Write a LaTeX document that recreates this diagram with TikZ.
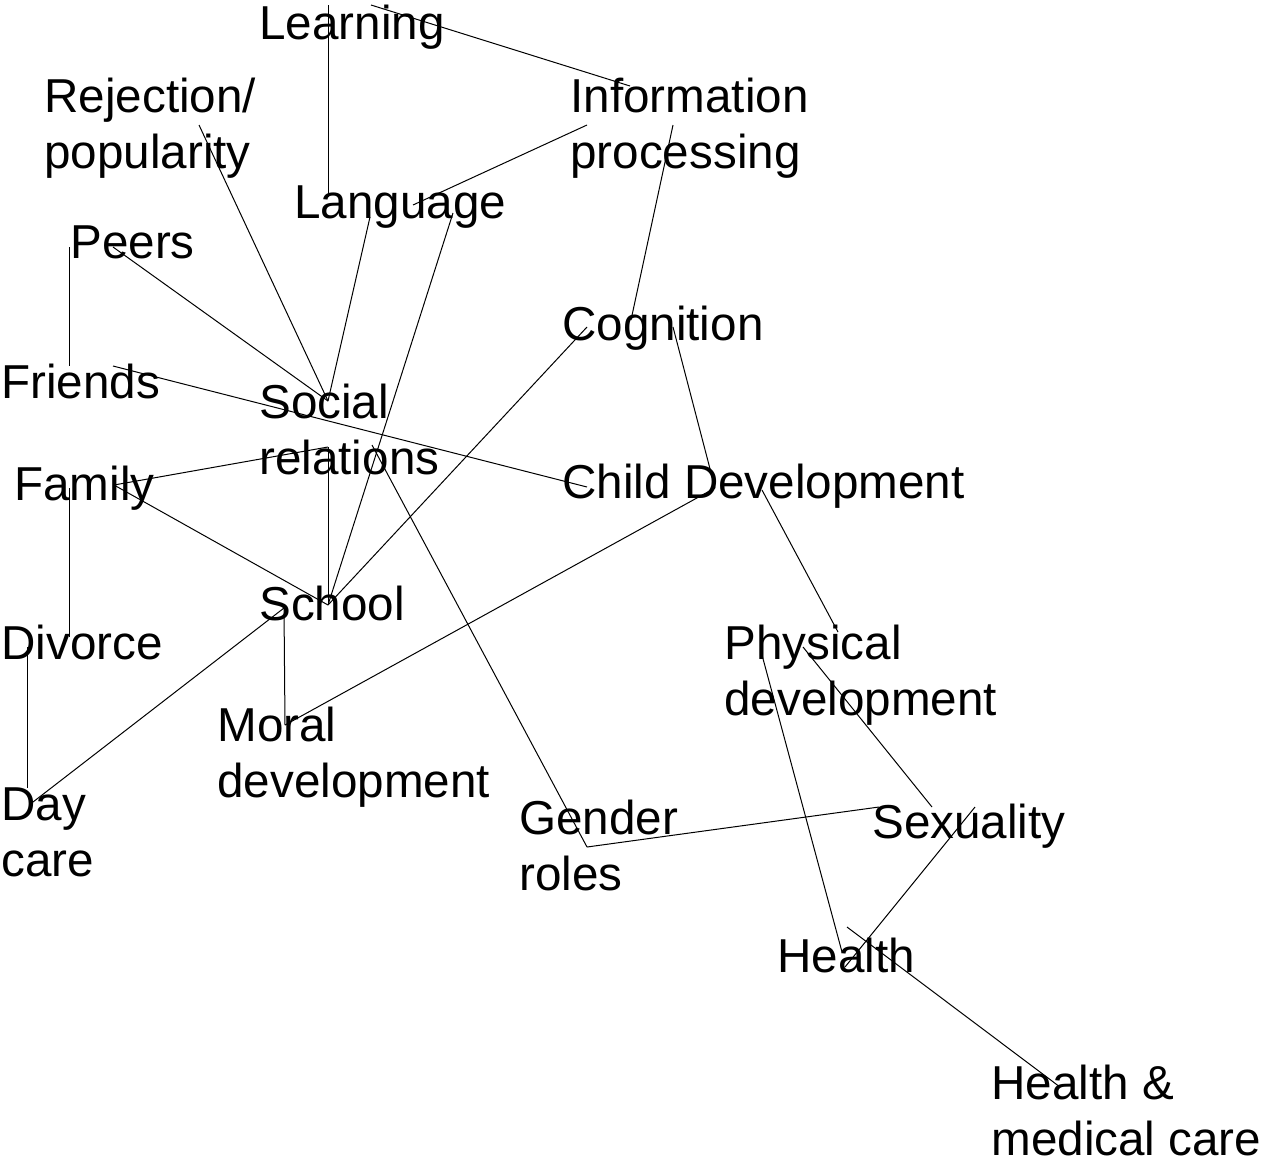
\documentclass[tikz,border=0pt]{standalone}
\usepackage{fontspec}
\setmainfont{Liberation Sans}
\usetikzlibrary{calc}

\begin{document}
\begin{tikzpicture}[x=0.5pt,y=-0.5pt,
  tema/.style={anchor=base west,inner sep=0pt,align=left,font=\fontsize{23.8}{28}\selectfont},
  enlace/.style={line width=0.5pt}
  ]
  \useasboundingbox (0,0) rectangle (1261,1162);

  % temas (base west = last line)
  \node[tema] (learn) at (259,39) {Learning};
  \node[tema] (rej) at (44,168) {Rejection/\\popularity};
  \node[tema] (info) at (570,168) {Information\\processing};
  \node[tema] (lang) at (294,218) {Language};
  \node[tema] (peers) at (70,258) {Peers};
  \node[tema] (cogn) at (562,340) {Cognition};
  \node[tema] (friends) at (1,398) {Friends};
  \node[tema] (social) at (259,474) {Social\\relations};
  \node[tema] (family) at (14,500) {Family};
  \node[tema] (child) at (562,498) {Child Development};
  \node[tema] (school) at (259,620) {School};
  \node[tema] (phys) at (724,715) {Physical\\development};
  \node[tema] (divorce) at (1,659) {Divorce};
  \node[tema] (moral) at (217,797) {Moral\\development};
  \node[tema] (daycare) at (1,876) {Day\\care};
  \node[tema] (gender) at (519,890) {Gender\\roles};
  \node[tema] (sex) at (872,838) {Sexuality};
  \node[tema] (health) at (777,972) {Health};
  \node[tema] (medical) at (991,1155) {Health \&\\medical care};

  % puntos de enlace
  \coordinate (learn-a) at (328,5);
  \coordinate (learn-b) at (371,5);
  \coordinate (info-a) at (630,86);
  \coordinate (info-b) at (587,125);
  \coordinate (info-c) at (673,125);
  \coordinate (rej-a) at (199,125);
  \coordinate (lang-a) at (328,197);
  \coordinate (lang-b) at (413,205);
  \coordinate (lang-c) at (370,217);
  \coordinate (lang-d) at (453,213);
  \coordinate (peers-a) at (113,247);
  \coordinate (peers-b) at (69,247);
  \coordinate (cogn-a) at (631,320);
  \coordinate (cogn-b) at (587,327);
  \coordinate (cogn-c) at (673,327);
  \coordinate (friends-a) at (113,366);
  \coordinate (friends-b) at (69,366);
  \coordinate (social-a) at (328,401);
  \coordinate (social-b) at (328,447);
  \coordinate (social-c) at (372,445);
  \coordinate (family-a) at (114,485);
  \coordinate (family-b) at (69,488);
  \coordinate (child-a) at (587,487);
  \coordinate (child-b) at (715,488);
  \coordinate (child-c) at (762,490);
  \coordinate (school-a) at (328,605);
  \coordinate (school-b) at (284,608);
  \coordinate (phys-a) at (838,632);
  \coordinate (phys-b) at (803,647);
  \coordinate (phys-c) at (762,655);
  \coordinate (divorce-a) at (69,637);
  \coordinate (divorce-b) at (27,647);
  \coordinate (moral-a) at (285,725);
  \coordinate (daycare-a) at (27,788);
  \coordinate (daycare-b) at (33,802);
  \coordinate (sex-a) at (879,807);
  \coordinate (sex-b) at (932,807);
  \coordinate (sex-c) at (975,807);
  \coordinate (gender-a) at (587,847);
  \coordinate (health-a) at (847,927);
  \coordinate (health-b) at (842,952);
  \coordinate (health-c) at (845,967);
  \coordinate (medical-a) at (1060,1087);

  % enlaces
  \draw[enlace] (learn-a) -- (lang-a);
  \draw[enlace] (learn-b) -- (info-a);
  \draw[enlace] (info-b) -- (lang-b);
  \draw[enlace] (info-c) -- (cogn-a);
  \draw[enlace] (rej-a) -- (social-a);
  \draw[enlace] (peers-a) -- (social-a);
  \draw[enlace] (lang-c) -- (social-a);
  \draw[enlace] (lang-d) -- (school-a);
  \draw[enlace] (peers-b) -- (friends-b);
  \draw[enlace] (friends-a) -- (child-a);
  \draw[enlace] (family-a) -- (social-b);
  \draw[enlace] (social-b) -- (school-a);
  \draw[enlace] (family-a) -- (school-a);
  \draw[enlace] (family-b) -- (divorce-a);
  \draw[enlace] (divorce-b) -- (daycare-a);
  \draw[enlace] (daycare-b) -- (school-b);
  \draw[enlace] (school-b) -- (moral-a);
  \draw[enlace] (moral-a) -- (child-b);
  \draw[enlace] (cogn-b) -- (school-a);
  \draw[enlace] (cogn-c) -- (child-b);
  \draw[enlace] (social-c) -- (gender-a);
  \draw[enlace] (gender-a) -- (sex-a);
  \draw[enlace] (child-c) -- (phys-a);
  \draw[enlace] (phys-b) -- (sex-b);
  \draw[enlace] (phys-c) -- (health-b);
  \draw[enlace] (sex-c) -- (health-c);
  \draw[enlace] (health-a) -- (medical-a);

\end{tikzpicture}
\end{document}
